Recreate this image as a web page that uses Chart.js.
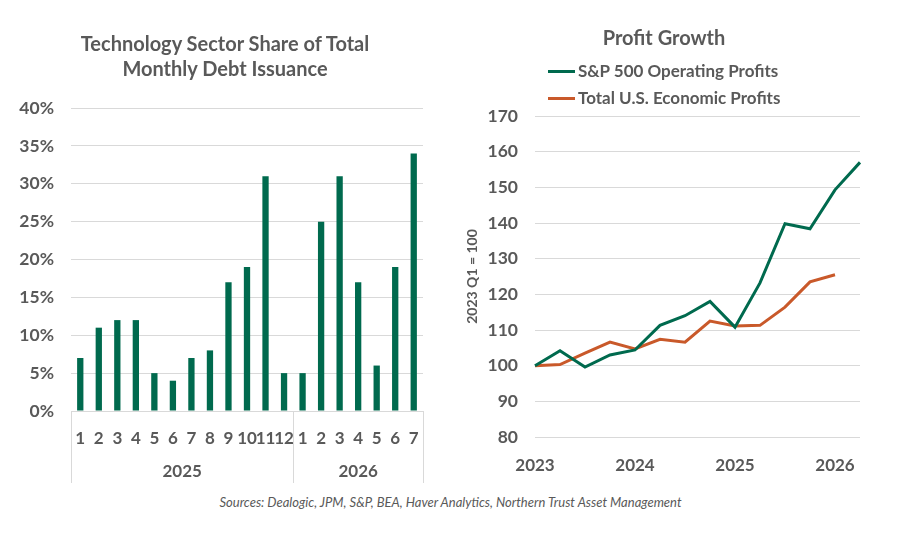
<!DOCTYPE html>
<html><head><meta charset="utf-8">
<script src="https://cdn.jsdelivr.net/npm/chart.js@4.4.1/dist/chart.umd.min.js"></script>
<style>
html,body{margin:0;padding:0;background:#fff;}
body{width:901px;height:535px;position:relative;overflow:hidden;font-family:Lato,"Open Sans",sans-serif;color:#595959;}
.abs{position:absolute;}
#c1wrap{left:0;top:0;width:450px;height:490px;}
#c2wrap{left:450px;top:0;width:451px;height:490px;}
.title{font-weight:bold;font-size:20px;text-align:center;line-height:25px;}
.leg{font-weight:bold;font-size:17px;white-space:nowrap;}
.leg span{display:inline-block;width:27px;height:3px;vertical-align:middle;margin-right:3px;position:relative;top:-1px;}
#src{left:0;width:901px;top:494px;text-align:center;font-style:italic;font-size:13px;}
</style></head>
<body>
<div class="abs" id="c1wrap"><canvas id="c1" width="450" height="490"></canvas></div>
<div class="abs" id="c2wrap"><canvas id="c2" width="451" height="490"></canvas></div>
<div class="abs title" style="left:0;width:450px;top:31px;">Technology Sector Share of Total<br>Monthly Debt Issuance</div>
<div class="abs title" style="left:564px;width:200px;top:25px;">Profit Growth</div>
<div class="abs leg" style="left:548px;top:60px;"><span style="background:#006A4E"></span>S&amp;P 500 Operating Profits</div>
<div class="abs leg" style="left:548px;top:87px;"><span style="background:#C9592A"></span>Total U.S. Economic Profits</div>
<div class="abs" id="src">Sources: Dealogic, JPM, S&amp;P, BEA, Haver Analytics, Northern Trust Asset Management</div>
<script>
const months = ['1','2','3','4','5','6','7','8','9','10','11','12','1','2','3','4','5','6','7'];
const monthYears = ['2025','2025','2025','2025','2025','2025','2025','2025','2025','2025','2025','2025','2026','2026','2026','2026','2026','2026','2026'];
const techShare = [7,11,12,12,5,4,7,8,17,19,31,5,5,25,31,17,6,19,34];
const yearGroups = ['2025','2026'];

const quarters = ['2023 Q1','2023 Q2','2023 Q3','2023 Q4','2024 Q1','2024 Q2','2024 Q3','2024 Q4','2025 Q1','2025 Q2','2025 Q3','2025 Q4','2026 Q1','2026 Q2'];
const spProfits = [100,104.2,99.6,103,104.4,111.3,114,118,110.8,123.2,139.8,138.4,149.3,157];
const econProfits = [100,100.3,103.5,106.6,104.7,107.4,106.6,112.5,111.1,111.3,116.4,123.5,125.5,null];

const GREEN = '#006A4E', ORANGE = '#C9592A', TXT = '#595959', GRID = '#D9D9D9';
const FONT = 'Lato, "Open Sans", sans-serif';

const groupPlugin = {
  id:'groups',
  afterDraw(chart){
    const ctx = chart.ctx, x = chart.scales.x, area = chart.chartArea;
    const n = months.length;
    const half = (x.getPixelForValue(1) - x.getPixelForValue(0))/2;
    const bottom = area.bottom + 72;
    ctx.save();
    ctx.strokeStyle = GRID; ctx.lineWidth = 1;
    const bounds = [];
    let start = 0;
    for(let i=1;i<=n;i++){
      if(i===n || monthYears[i]!==monthYears[i-1]){ bounds.push([start,i-1]); start=i; }
    }
    const edges = [x.getPixelForValue(0)-half];
    bounds.forEach(b=>edges.push(x.getPixelForValue(b[1])+half));
    edges.forEach(e=>{ctx.beginPath();ctx.moveTo(Math.round(e)+0.5,area.bottom);ctx.lineTo(Math.round(e)+0.5,bottom);ctx.stroke();});
    ctx.fillStyle = TXT; ctx.font = 'bold 17px '+FONT; ctx.textAlign='center'; ctx.textBaseline='middle';
    bounds.forEach((b,k)=>{
      const cx = (x.getPixelForValue(b[0])-half + x.getPixelForValue(b[1])+half)/2;
      ctx.fillText(yearGroups[k], cx, area.bottom+61);
    });
    ctx.restore();
  }
};

new Chart(document.getElementById('c1'),{
  type:'bar',
  data:{labels:months,datasets:[{data:techShare,backgroundColor:GREEN,categoryPercentage:1,barPercentage:0.34}]},
  plugins:[groupPlugin],
  options:{
    responsive:false,animation:false,
    layout:{padding:{top:108,right:27,left:0,bottom:0}},
    plugins:{legend:{display:false},tooltip:{enabled:false}},
    scales:{
      x:{grid:{display:false},border:{color:GRID},
         ticks:{color:TXT,font:{family:FONT,size:17,weight:'bold'},padding:9,maxRotation:0,autoSkip:false},
         afterFit(s){s.height=79;}},
      y:{min:0,max:40,grid:{color:GRID,drawTicks:false},border:{display:false},
         ticks:{stepSize:5,color:TXT,font:{family:FONT,size:17.5,weight:'bold'},padding:17,callback:v=>v+'%'},
         afterFit(s){s.width=71;}}
    }
  }
});

new Chart(document.getElementById('c2'),{
  type:'line',
  data:{labels:quarters,datasets:[
    {data:spProfits,borderColor:GREEN,borderWidth:3,pointRadius:0,tension:0},
    {data:econProfits,borderColor:ORANGE,borderWidth:3,pointRadius:0,tension:0}
  ]},
  options:{
    responsive:false,animation:false,
    layout:{padding:{top:116,right:41,left:14,bottom:0}},
    plugins:{legend:{display:false},tooltip:{enabled:false}},
    scales:{
      x:{offset:false,grid:{display:false},border:{display:false},
         ticks:{color:TXT,font:{family:FONT,size:17,weight:'bold'},padding:10,maxRotation:0,autoSkip:false,
           callback:function(v,i){const q=quarters[i];return q.endsWith('Q1')?q.slice(0,4):'';}},
         afterFit(s){s.height=53;}},
      y:{min:80,max:170,grid:{color:GRID,drawTicks:false},border:{display:false},
         title:{display:true,text:'2023 Q1 = 100',color:TXT,font:{family:FONT,size:14,weight:'bold'},padding:0},
         ticks:{stepSize:10,color:TXT,font:{family:FONT,size:17.5,weight:'bold'},padding:17},
         afterFit(s){s.width=71;}}
    }
  }
});
</script>
</body></html>
